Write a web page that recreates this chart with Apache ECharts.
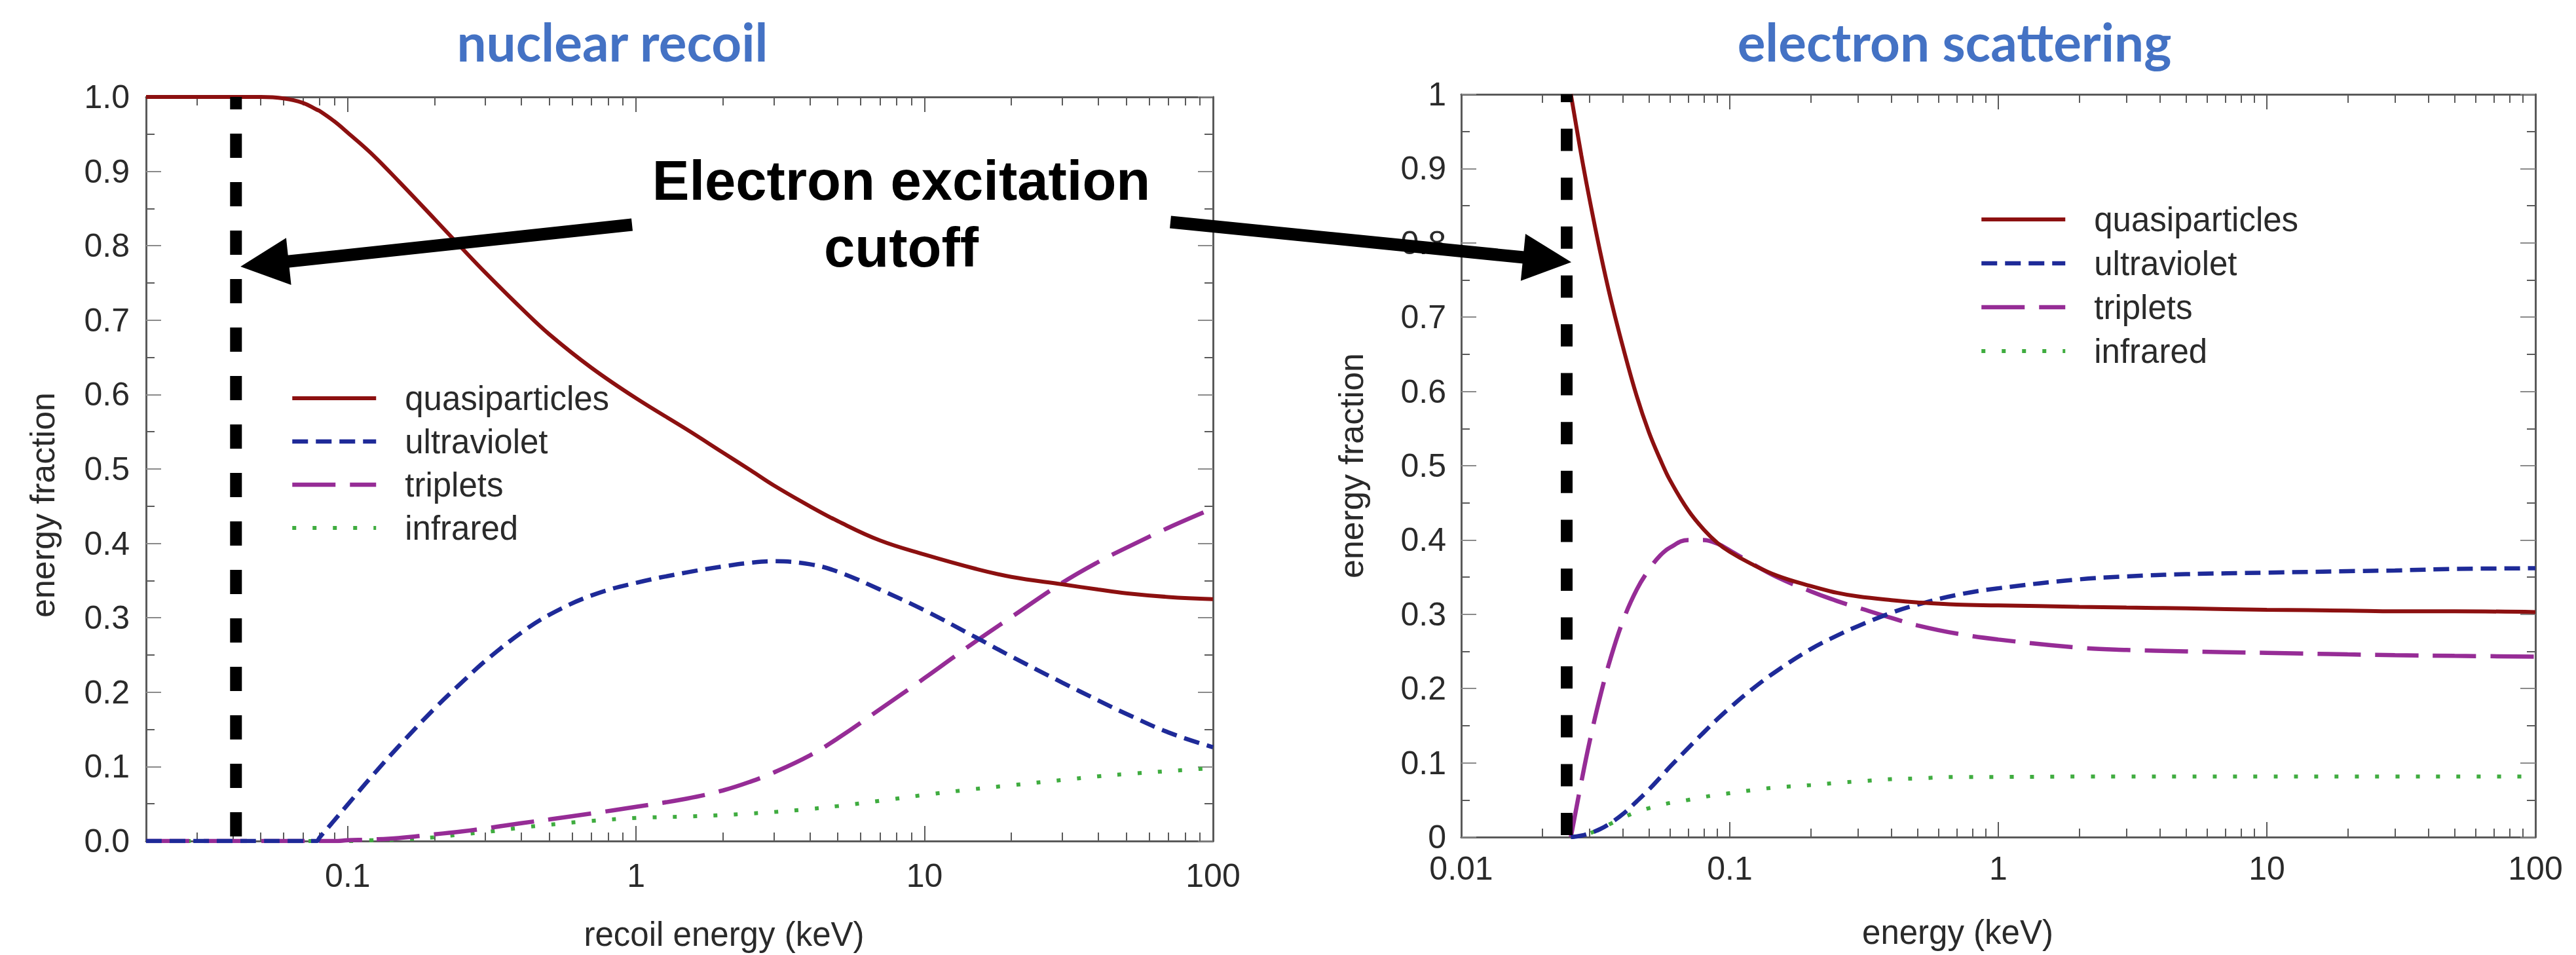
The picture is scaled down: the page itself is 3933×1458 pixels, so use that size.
<!DOCTYPE html>
<html>
<head>
<meta charset="utf-8">
<script src="https://cdn.jsdelivr.net/npm/echarts@6/dist/echarts.min.js"></script>
<style>
html,body{margin:0;padding:0;background:#fff;}
#chart{width:3933px;height:1458px;}
</style>
</head>
<body>
<div id="chart"></div>
<script>
// ---------------- DATA ----------------
// nuclear recoil (left panel)
const nrEnergy  = [0.02,0.03,0.04,0.05,0.06,0.07,0.078,0.08,0.09,0.1,0.12,0.15,0.2,0.25,0.3,0.4,0.5,0.7,1,1.5,2,2.5,3,4,5,7,10,15,20,30,40,50,70,100];
const nrQuasi   = [1,1,1,1,0.998,0.992,0.983,0.981,0.967,0.952,0.925,0.887,0.836,0.796,0.764,0.716,0.681,0.636,0.595,0.553,0.522,0.498,0.478,0.45,0.43,0.404,0.385,0.366,0.355,0.345,0.338,0.333,0.328,0.325];
const nrUV      = [0,0,0,0,0,0,0,0.005,0.028,0.049,0.085,0.127,0.178,0.214,0.242,0.28,0.304,0.33,0.347,0.361,0.369,0.374,0.376,0.372,0.362,0.338,0.31,0.274,0.248,0.213,0.189,0.171,0.146,0.126];
const nrTrip    = [0,0,0,0,0,0,0,0,0,0.001,0.002,0.004,0.009,0.013,0.017,0.024,0.029,0.037,0.046,0.057,0.068,0.08,0.092,0.115,0.138,0.177,0.219,0.268,0.301,0.347,0.375,0.394,0.421,0.447];
const nrIR      = [0,0,0,0,0,0,0,0,0,0,0.001,0.002,0.005,0.009,0.012,0.018,0.022,0.027,0.031,0.033,0.035,0.037,0.039,0.043,0.047,0.054,0.062,0.07,0.075,0.082,0.087,0.09,0.094,0.098];
const nrCutoff  = 0.041;

// electron scattering (right panel)
const esEnergy  = [0.0256,0.028,0.03,0.033,0.036,0.04,0.045,0.05,0.055,0.06,0.07,0.08,0.09,0.1,0.12,0.15,0.2,0.25,0.3,0.4,0.5,0.7,1,2,3,5,10,20,30,50,100];
const esQuasi   = [1,0.918,0.86,0.786,0.725,0.66,0.594,0.545,0.509,0.48,0.44,0.414,0.396,0.384,0.368,0.352,0.338,0.329,0.324,0.319,0.316,0.313,0.312,0.31,0.309,0.308,0.306,0.305,0.304,0.304,0.303];
const esUV      = [0,0.002,0.005,0.011,0.019,0.031,0.048,0.064,0.08,0.095,0.12,0.141,0.159,0.174,0.198,0.224,0.253,0.271,0.284,0.302,0.313,0.326,0.335,0.347,0.351,0.354,0.356,0.358,0.359,0.361,0.362];
const esTrip    = [0,0.074,0.127,0.191,0.241,0.291,0.333,0.36,0.379,0.39,0.4,0.4,0.395,0.386,0.369,0.35,0.331,0.318,0.309,0.295,0.285,0.274,0.266,0.255,0.252,0.25,0.248,0.246,0.245,0.244,0.243];
const esIR      = [0,0.002,0.005,0.011,0.018,0.026,0.034,0.039,0.043,0.046,0.05,0.054,0.057,0.059,0.063,0.067,0.07,0.073,0.075,0.078,0.079,0.081,0.081,0.0815,0.0815,0.0815,0.0815,0.0815,0.0815,0.0815,0.0815];
const esCutoff  = 0.0247;

// tick values
const nrXMajor = [0.1, 1, 10, 100];
const esXMajor = [0.01, 0.1, 1, 10, 100];
const yTicks   = [0,0.1,0.2,0.3,0.4,0.5,0.6,0.7,0.8,0.9,1];
const seriesNames = ['quasiparticles','ultraviolet','triplets','infrared'];
const titles = ['nuclear recoil','electron scattering'];
const annotationText = 'Electron excitation\ncutoff';

// ---------------- STYLE ----------------
const COLORS = ['#8c1010','#1e2a98','#962c96','#3fac3f'];
const DASH = ['solid',[24,12],[66,22],[6,25]];
const WIDTH = [6,6.5,6.5,6];
const FONT = 'Liberation Sans, Arial, sans-serif';
const AXIS = '#5a5a5a';

function minorTicks(lo, hi){
  const out=[];
  for(let d=-3; d<=2; d++){
    for(let m=2;m<=9;m++){
      const v = +(m*Math.pow(10,d)).toPrecision(6);
      if(v>=lo-1e-12 && v<=hi+1e-12) out.push(v);
    }
  }
  return out;
}
const fmtX = v => String(+Number(v).toPrecision(6));

function xAxes(grid, min, max, major, labelMargin, name, nameGap, namePad){
  const minor = minorTicks(min, max);
  const base = {type:'log', logBase:10, min:min, max:max, gridIndex:grid, splitLine:{show:false}, minorTick:{show:false}};
  return [
    Object.assign({}, base, {position:'bottom',
      axisLine:{show:true, lineStyle:{color:AXIS, width:3}},
      axisTick:{show:true, inside:true, length:23, customValues:major, lineStyle:{color:AXIS, width:2}},
      axisLabel:{show:true, customValues:major, formatter:fmtX, margin:labelMargin, fontFamily:FONT, fontSize:50, color:'#2a2a2a'},
      name:name, nameLocation:'middle', nameGap:nameGap,
      nameTextStyle:{fontFamily:FONT, fontSize:51, color:'#2a2a2a', padding:namePad}}),
    Object.assign({}, base, {position:'bottom',
      axisLine:{show:false},
      axisTick:{show:true, inside:true, length:13, customValues:minor, lineStyle:{color:AXIS, width:2}},
      axisLabel:{show:false}}),
    Object.assign({}, base, {position:'top',
      axisLine:{show:true, lineStyle:{color:AXIS, width:3}},
      axisTick:{show:true, inside:true, length:23, customValues:major, lineStyle:{color:AXIS, width:2}},
      axisLabel:{show:false}}),
    Object.assign({}, base, {position:'top',
      axisLine:{show:false},
      axisTick:{show:true, inside:true, length:13, customValues:minor, lineStyle:{color:AXIS, width:2}},
      axisLabel:{show:false}})
  ];
}
function yAxes(grid, fmt, labelMargin, nameGap, namePad){
  const base = {type:'value', min:yTicks[0], max:yTicks[yTicks.length-1], interval:0.1, gridIndex:grid, splitLine:{show:false},
    axisLine:{show:true, lineStyle:{color:AXIS, width:3}},
    axisTick:{show:true, inside:true, length:23, lineStyle:{color:'#8a8a8a', width:2}},
    minorTick:{show:true, splitNumber:2, length:13, lineStyle:{color:AXIS, width:2}}};
  return [
    Object.assign({}, base, {position:'left',
      axisLabel:{show:true, formatter:fmt, margin:labelMargin, fontFamily:FONT, fontSize:50, color:'#2a2a2a'},
      name:'energy fraction', nameLocation:'middle', nameRotate:90, nameGap:nameGap,
      nameTextStyle:{fontFamily:FONT, fontSize:52, color:'#2a2a2a', padding:namePad}}),
    Object.assign({}, base, {position:'right', axisLabel:{show:false}})
  ];
}

function makeSeries(xi, yi, energy, arrays, cutoff, dashCut){
  const s = arrays.map((arr,k)=>({
    name: seriesNames[k], type:'line', xAxisIndex:xi, yAxisIndex:yi,
    data: energy.map((e,i)=>[e, arr[i]]),
    showSymbol:false, symbol:'none', smooth:0.4, clip:true,
    color: COLORS[k],
    lineStyle:{color:COLORS[k], width:WIDTH[k], type:DASH[k], cap:'butt'},
    z: 2 + (3-k)*0.1
  }));
  s.push({
    name:'electron excitation cutoff', type:'line', xAxisIndex:xi, yAxisIndex:yi,
    data:[[cutoff, 1],[cutoff, 0]], showSymbol:false, symbol:'none', silent:true,
    lineStyle:{color:'#000', width:18, type:dashCut[0], dashOffset:dashCut[1], cap:'butt'},
    z: 5
  });
  return s;
}

const legendData = seriesNames.map((n,k)=>({name:n, lineStyle:{width:WIDTH[k], type:DASH[k], color:COLORS[k]}}));
const legendBase = {orient:'vertical', itemWidth:128, itemHeight:20, padding:0,
  itemStyle:{color:'rgba(0,0,0,0)', borderColor:'rgba(0,0,0,0)', borderWidth:0, opacity:0},
  lineStyle:{width:6},
  textStyle:{fontFamily:FONT, fontSize:51, color:'#2a2a2a', lineHeight:56, padding:[0,0,0,39]},
  data: legendData, selectedMode:false};

const option = {
  backgroundColor:'#fff',
  animation:false,
  title:[
    {text:titles[0], left:935, top:63, textAlign:'center', textVerticalAlign:'middle', padding:0,
     textStyle:{fontFamily:'Lato, Open Sans, sans-serif', fontWeight:'bold', fontSize:80, color:'#4472c4'}},
    {text:titles[1], left:2984, top:63, textAlign:'center', textVerticalAlign:'middle', padding:0,
     textStyle:{fontFamily:'Lato, Open Sans, sans-serif', fontWeight:'bold', fontSize:80, color:'#4472c4'}},
    {text:annotationText, left:1376, top:326, textAlign:'center', textVerticalAlign:'middle', padding:0,
     textStyle:{fontFamily:FONT, fontWeight:'bold', fontSize:85, lineHeight:102, color:'#000'}}
  ],
  legend:[
    Object.assign({}, legendBase, {left:443, top:580, itemGap:10}),
    Object.assign({}, legendBase, {left:3022, top:307, itemGap:11})
  ],
  grid:[
    {left:223, top:148, width:1629, height:1136, containLabel:false},
    {left:2231, top:144, width:1640, height:1134, containLabel:false}
  ],
  xAxis: [].concat(
    xAxes(0, 0.02, 100, nrXMajor, 28, 'recoil energy (keV)', 117, [0,0,0,136]),
    xAxes(1, 0.01, 100, esXMajor, 23, 'energy (keV)', 120, [0,124,0,0])
  ),
  yAxis: [].concat(
    yAxes(0, v=>Number(v).toFixed(1), 25, 132, [0,110,0,0]),
    yAxes(1, v=>String(+Number(v).toFixed(1)), 23, 142, [0,0,0,0])
  ),
  series: [].concat(
    makeSeries(0, 0, nrEnergy, [nrQuasi,nrUV,nrTrip,nrIR], nrCutoff, [[37,37],17.6]),
    makeSeries(4, 2, esEnergy, [esQuasi,esUV,esTrip,esIR], esCutoff, [[34,40.6],22])
  )
};

const chart = echarts.init(document.getElementById('chart'), null, {renderer:'svg', width:3933, height:1458});
chart.setOption(option);

// ---------------- ANNOTATION ARROWS ----------------
// arrow tips point at the cutoff lines (data coordinates); tails start beside the annotation text
const tipL = chart.convertToPixel({xAxisIndex:0, yAxisIndex:0}, [0.0425, 0.772]);
const tipR = chart.convertToPixel({xAxisIndex:4, yAxisIndex:2}, [0.0257, 0.774]);
const tailL = [965, 343];
const tailR = [1787, 339];
function arrow(tail, tip){
  const dx = tip[0]-tail[0], dy = tip[1]-tail[1];
  const L = Math.hypot(dx,dy), ux = dx/L, uy = dy/L;
  const hl = 74, hw = 36;
  const bx = tip[0]-ux*hl, by = tip[1]-uy*hl;
  return [
    {type:'line', silent:true, z:10, shape:{x1:tail[0], y1:tail[1], x2:bx+ux*4, y2:by+uy*4}, style:{stroke:'#000', lineWidth:19}},
    {type:'polygon', silent:true, z:10, shape:{points:[[tip[0],tip[1]],[bx-uy*hw, by+ux*hw],[bx+uy*hw, by-ux*hw]]}, style:{fill:'#000'}}
  ];
}
chart.setOption({graphic: [].concat(arrow(tailL, tipL), arrow(tailR, tipR))});
</script>
</body>
</html>
